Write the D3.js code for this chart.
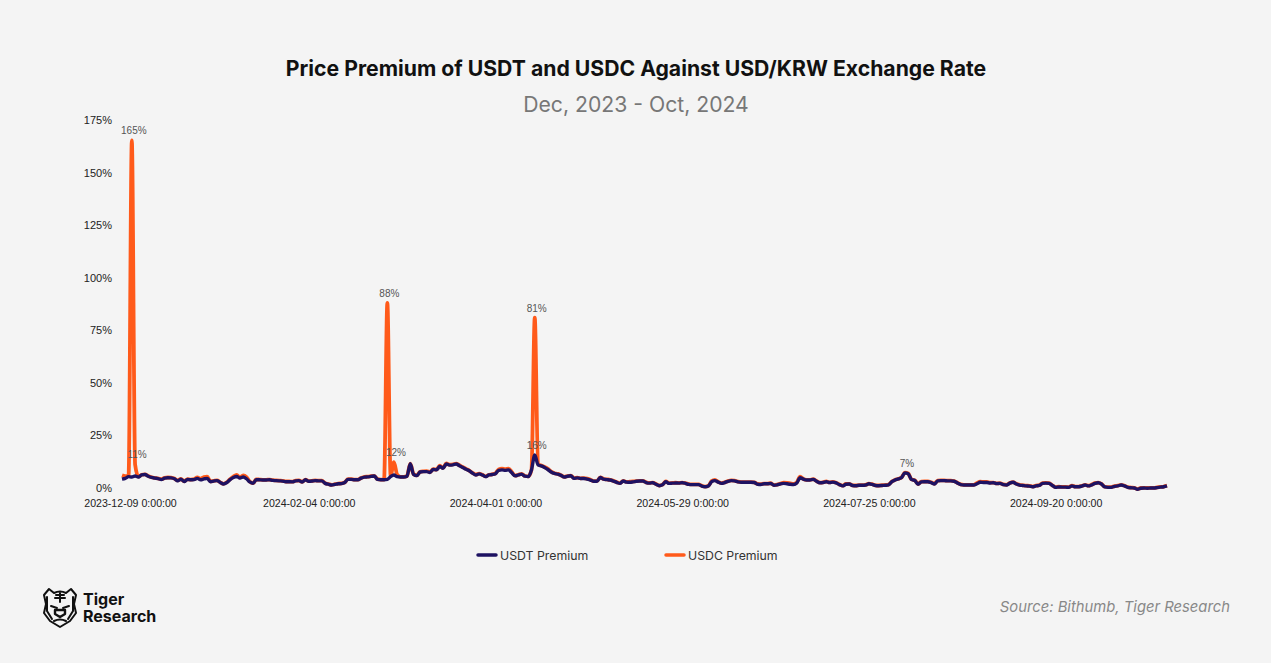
<!DOCTYPE html>
<html>
<head>
<meta charset="utf-8">
<script src="https://cdn.jsdelivr.net/npm/d3@7"></script>
<style>
  html, body { margin: 0; padding: 0; background: #f4f4f4; }
  svg { display: block; }
</style>
</head>
<body>
<div id="chart"></div>
<script>
const yTicks = [0, 25, 50, 75, 100, 125, 150, 175];
const xTickIndexes = [0, 57, 114, 171, 228, 285];
const xTickLabels = [
  "2023-12-09 0:00:00",
  "2024-02-04 0:00:00",
  "2024-04-01 0:00:00",
  "2024-05-29 0:00:00",
  "2024-07-25 0:00:00",
  "2024-09-20 0:00:00",
];

const usdtPremium = [
  4.2,4.6,5.4,5.2,5.7,5.2,6.2,6.4,5.6,5.0,
  4.7,4.5,4.0,4.7,4.9,4.8,4.4,3.4,4.2,3.1,
  4.1,3.9,4.0,4.6,3.9,4.3,4.6,3.0,3.3,3.5,
  2.6,1.9,2.6,4.0,5.0,5.5,4.7,5.2,4.4,2.9,
  2.2,4.0,3.9,3.8,3.8,3.9,3.6,3.5,3.4,3.3,
  3.0,3.0,2.9,3.4,3.5,2.8,3.9,3.2,3.3,3.5,
  3.4,3.4,2.2,1.8,1.4,1.7,2.0,2.1,2.6,4.1,
  4.1,3.9,3.9,4.7,5.2,5.3,5.5,5.7,4.1,3.9,
  3.9,4.1,5.4,6.2,5.4,5.2,5.2,5.6,11.5,6.5,
  5.9,7.6,7.8,7.8,7.4,8.8,8.6,10.2,9.4,11.4,
  10.9,11.0,11.4,10.6,9.8,8.9,8.2,7.1,6.2,6.7,
  6.2,5.4,6.2,6.4,6.8,8.4,8.6,8.4,8.6,7.2,
  5.8,6.2,6.6,5.6,5.4,8.6,15.7,11.0,10.5,9.8,
  8.8,7.6,6.9,6.6,6.0,5.2,5.6,5.8,4.6,4.8,
  4.5,4.5,4.2,3.8,3.2,3.2,5.0,4.2,4.0,3.8,
  3.3,2.7,2.2,3.3,2.8,2.7,2.9,3.2,3.3,3.3,
  2.6,2.3,2.5,1.8,1.1,1.5,3.0,2.2,2.3,2.4,
  2.3,2.5,2.2,1.7,1.6,1.6,1.6,0.9,0.6,1.0,
  3.0,3.5,2.8,2.2,2.6,3.2,3.5,3.4,2.9,2.7,
  2.7,2.7,2.7,2.6,1.8,1.7,2.0,2.0,2.2,1.3,
  1.5,2.0,2.2,2.0,1.8,1.7,2.4,4.9,4.2,3.8,
  3.8,4.1,3.2,2.5,2.6,3.0,2.6,2.8,2.4,1.6,
  1.0,1.8,1.9,1.2,1.1,1.3,1.3,1.4,2.0,1.7,
  1.2,1.1,1.2,1.3,1.5,3.0,3.8,4.3,5.0,7.2,
  6.8,4.0,3.6,1.8,2.9,3.0,3.0,2.6,1.9,3.4,
  3.5,3.5,3.4,3.4,3.2,2.4,1.6,1.4,1.4,1.4,
  1.4,2.0,2.7,2.6,2.6,2.4,2.5,2.1,2.2,1.6,
  1.4,2.3,2.7,1.9,1.4,1.2,1.0,0.9,0.6,1.0,
  1.2,2.2,2.3,2.2,1.2,0.3,0.5,0.4,0.4,0.3,
  1.0,0.6,0.6,0.9,1.4,1.0,1.5,2.2,2.5,1.9,
  0.5,0.3,0.3,0.8,1.0,1.4,1.0,0.3,0.1,0.0,
  -0.6,-0.1,0.0,-0.1,0.0,0.0,0.2,0.4,0.6,1.0,
];

const usdcPremium = [
  6.0,5.6,5.6,165.3,11.2,5.4,6.3,6.5,5.7,5.1,
  4.8,4.6,4.2,4.8,5.0,4.9,4.5,3.6,4.3,3.2,
  4.2,4.0,4.2,5.0,4.4,5.2,5.4,3.2,3.4,3.6,
  2.7,2.0,2.7,4.2,5.4,6.2,5.0,6.0,5.2,3.0,
  2.3,4.1,4.0,3.9,3.9,4.0,3.7,3.6,3.5,3.4,
  3.1,3.1,3.0,3.5,3.6,2.9,4.0,3.3,3.4,3.6,
  3.5,3.5,2.3,1.9,1.5,1.8,2.1,2.2,2.7,4.2,
  4.2,4.0,4.0,4.8,5.3,5.4,5.6,5.8,4.2,4.0,
  4.0,88.0,5.9,12.3,6.3,5.3,5.3,5.7,11.6,6.6,
  6.0,7.7,7.9,8.0,7.6,9.0,8.8,10.6,9.6,11.7,
  11.1,11.2,11.6,10.8,10.0,9.1,8.3,7.2,6.4,6.8,
  6.3,5.5,6.3,6.5,7.0,8.8,9.2,9.0,9.2,7.6,
  5.9,6.3,6.7,5.7,5.5,8.7,81.0,11.2,10.7,10.0,
  9.1,7.8,7.0,6.7,6.1,5.3,5.7,5.9,4.7,4.9,
  4.6,4.7,4.5,3.9,3.3,3.3,5.1,4.3,4.1,3.9,
  3.4,2.8,2.3,3.4,2.9,3.0,3.1,3.3,3.4,3.4,
  2.7,2.4,2.6,1.9,1.2,1.6,3.1,2.3,2.4,2.5,
  2.4,2.6,2.3,1.8,1.7,1.7,1.7,1.0,0.7,1.1,
  3.3,3.9,2.9,2.3,2.7,3.3,3.6,3.5,3.0,2.8,
  2.8,2.8,2.8,2.7,1.9,1.8,2.1,2.1,2.3,1.4,
  1.6,2.1,2.5,2.4,2.2,2.0,2.7,5.4,4.3,3.9,
  3.9,4.2,3.3,2.6,2.7,3.1,2.7,2.9,2.5,1.7,
  1.1,1.9,2.0,1.3,1.2,1.4,1.4,1.5,2.1,1.8,
  1.3,1.2,1.3,1.4,1.6,3.1,3.9,4.4,5.1,7.3,
  6.9,4.1,3.7,1.9,3.0,3.1,3.1,2.7,2.0,3.5,
  3.6,3.6,3.5,3.5,3.3,2.5,1.7,1.5,1.5,1.5,
  1.5,2.4,3.0,2.9,2.9,2.6,2.6,2.2,2.3,1.7,
  1.5,2.4,2.8,2.0,1.5,1.3,1.1,1.0,0.7,1.1,
  1.3,2.3,2.4,2.3,1.3,0.4,0.6,0.5,0.5,0.4,
  1.1,0.7,0.7,1.0,1.5,1.1,1.6,2.3,2.6,2.0,
  0.6,0.4,0.4,0.9,1.1,1.5,1.1,0.4,0.2,0.1,
  -0.5,0.0,0.1,0.0,0.1,0.1,0.3,0.5,0.7,1.1,
];

// [series, index] of the points that carry a value label
const labelledPoints = [
  ["usdc", 3],
  ["usdc", 4],
  ["usdc", 81],
  ["usdc", 83],
  ["usdc", 126],
  ["usdt", 126],
  ["usdt", 239],
];

const width = 1271;
const height = 663;
const navy = "#1e1262";
const orange = "#ff5a1a";
const bodyFont = "Inter, sans-serif";
const axisFont = "'Liberation Sans', Arial, sans-serif";

const svg = d3
  .select("#chart")
  .append("svg")
  .attr("width", width)
  .attr("height", height)
  .style("background", "#f4f4f4");

svg
  .append("text")
  .attr("x", 636)
  .attr("y", 76)
  .attr("text-anchor", "middle")
  .attr("font-family", bodyFont)
  .attr("font-size", 21.2)
  .attr("font-weight", 700)
  .attr("fill", "#111")
  .text("Price Premium of USDT and USDC Against USD/KRW Exchange Rate");

svg
  .append("text")
  .attr("x", 636)
  .attr("y", 112)
  .attr("text-anchor", "middle")
  .attr("font-family", bodyFont)
  .attr("font-size", 21.2)
  .attr("fill", "#777")
  .text("Dec, 2023 - Oct, 2024");

const x = d3
  .scalePoint()
  .domain(d3.range(usdtPremium.length))
  .range([122, 1167]);

const y = d3.scaleLinear().domain([0, 175]).range([488, 120]);

const yAxis = svg
  .append("g")
  .attr("transform", "translate(112,0)")
  .call(
    d3
      .axisLeft(y)
      .tickValues(yTicks)
      .tickSize(0)
      .tickPadding(0)
      .tickFormat((d) => `${d}%`)
  );

const xAxis = svg
  .append("g")
  .attr("transform", "translate(0,499)")
  .call(
    d3
      .axisBottom(x)
      .tickValues(xTickIndexes)
      .tickSize(0)
      .tickPadding(0)
      .tickFormat((d) => xTickLabels[xTickIndexes.indexOf(d)])
  );

[xAxis, yAxis].forEach((axis) => {
  axis.select(".domain").remove();
  axis
    .selectAll("text")
    .attr("font-family", axisFont)
    .attr("font-size", 11)
    .attr("fill", "#222");
});

xAxis.selectAll("text").attr("font-size", 10.6);

// first label is pushed in from the edge of the plot
xAxis.select(".tick text").attr("dx", 8);

const line = d3
  .line()
  .x((d, i) => x(i))
  .y((d) => y(d))
  .curve(d3.curveMonotoneX);

const series = { usdt: usdtPremium, usdc: usdcPremium };

svg
  .append("path")
  .attr("d", line(usdcPremium))
  .attr("fill", "none")
  .attr("stroke", orange)
  .attr("stroke-width", 3.8)
  .attr("stroke-linejoin", "round");

svg
  .append("path")
  .attr("d", line(usdtPremium))
  .attr("fill", "none")
  .attr("stroke", navy)
  .attr("stroke-width", 3.4)
  .attr("stroke-linejoin", "round");

svg
  .append("g")
  .selectAll("text")
  .data(labelledPoints)
  .enter()
  .append("text")
  .attr("x", (d) => x(d[1]) + 2)
  .attr("y", (d) => y(series[d[0]][d[1]]) - 6)
  .attr("text-anchor", "middle")
  .attr("font-family", axisFont)
  .attr("font-size", 10)
  .attr("fill", "#555")
  .text((d) => `${Math.round(series[d[0]][d[1]])}%`);

// legend
const legendItems = [
  { name: "USDT Premium", color: navy, x: 478 },
  { name: "USDC Premium", color: orange, x: 666 },
];

const legend = svg
  .append("g")
  .selectAll("g")
  .data(legendItems)
  .enter()
  .append("g")
  .attr("transform", (d) => `translate(${d.x},555)`);

legend
  .append("line")
  .attr("x2", 18)
  .attr("stroke", (d) => d.color)
  .attr("stroke-width", 3.5)
  .attr("stroke-linecap", "round");

legend
  .append("text")
  .attr("x", 22)
  .attr("y", 5)
  .attr("font-family", bodyFont)
  .attr("font-size", 12.3)
  .attr("fill", "#333")
  .text((d) => d.name);

svg
  .append("text")
  .attr("x", 1230)
  .attr("y", 612)
  .attr("text-anchor", "end")
  .attr("font-family", bodyFont)
  .attr("font-size", 14.8)
  .attr("font-style", "italic")
  .attr("fill", "#888")
  .text("Source: Bithumb, Tiger Research");

// logo: tiger head outline and wordmark
const logo = svg
  .append("g")
  .attr("transform", "translate(42,587)")
  .attr("fill", "none")
  .attr("stroke", "#111")
  .attr("stroke-width", 2)
  .attr("stroke-linejoin", "round")
  .attr("stroke-linecap", "round");

logo.append("path").attr("d", "M7 2 L2 8 L4 17 L2 26 L8 34 L18 40 L28 34 L34 26 L32 17 L34 8 L29 2 L24 6 Q18 3 12 6 Z");
logo.append("path").attr("d", "M5 10 L5 24 L10 32 M31 10 L31 24 L26 32");
logo.append("path").attr("d", "M18 6 L18 15 M14 8 L22 8 M13 11 L23 11");
logo.append("path").attr("d", "M9 19 L15 21 M27 19 L21 21");
logo.append("path").attr("d", "M13 27 L18 30 L23 27 L23 23 L13 23 Z").attr("stroke-width", 2.4);
logo.append("path").attr("d", "M12 34 Q18 31 24 34");

const wordmark = svg
  .append("text")
  .attr("font-family", bodyFont)
  .attr("font-size", 16)
  .attr("font-weight", 700)
  .attr("fill", "#111");

["Tiger", "Research"].forEach((word, i) => {
  wordmark
    .append("tspan")
    .attr("x", 83)
    .attr("y", 605 + i * 17)
    .text(word);
});
</script>
</body>
</html>
